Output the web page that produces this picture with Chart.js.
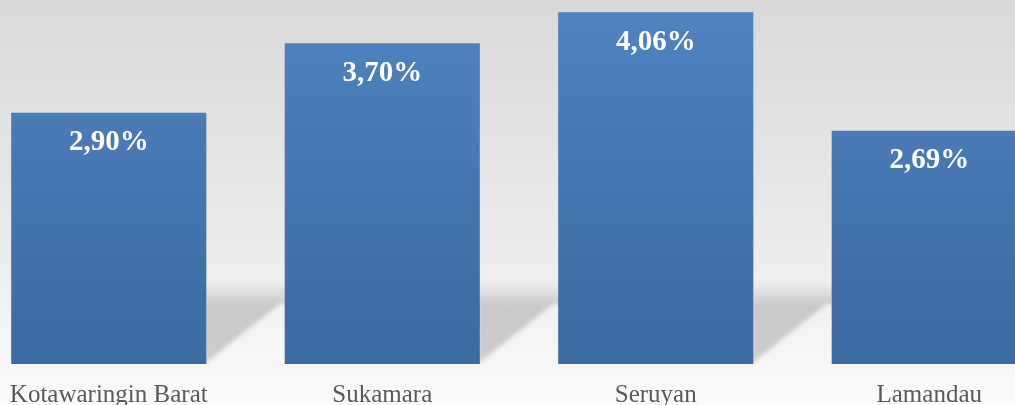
<!DOCTYPE html>
<html>
<head>
<meta charset="utf-8">
<script src="https://cdn.jsdelivr.net/npm/chart.js@4"></script>
<style>
  html, body {
    margin: 0;
    padding: 0;
    width: 1015px;
    height: 405px;
    overflow: hidden;
    background: linear-gradient(#d9d9d9 0px, #e4e4e4 150px, #efefef 280px, #f7f7f7 364px, #fbfbfb 405px);
  }
  #wrap {
    position: absolute;
    left: -28px;
    top: 0;
    width: 1094px;
    height: 405px;
  }
</style>
</head>
<body>
<div id="wrap"><canvas id="chart"></canvas></div>
<script>
// data
const categories = ["Kotawaringin Barat", "Sukamara", "Seruyan", "Lamandau"];
const values = [2.90, 3.70, 4.06, 2.69];
const valueLabels = ["2,90%", "3,70%", "4,06%", "2,69%"];

// soft floor shadow behind each bar
const floorShadow = {
  id: "floorShadow",
  beforeDatasetsDraw(chart) {
    const ctx = chart.ctx;
    const bottom = chart.chartArea.bottom;
    const meta = chart.getDatasetMeta(0);
    ctx.save();
    ctx.filter = "blur(2px)";
    meta.data.forEach((bar) => {
      const right = bar.x + bar.width / 2 - 2;
      const grad = ctx.createLinearGradient(0, bottom - 82, 0, bottom - 58);
      grad.addColorStop(0, "rgba(0,0,0,0)");
      grad.addColorStop(1, "rgba(0,0,0,0.17)");
      ctx.fillStyle = grad;
      ctx.beginPath();
      ctx.moveTo(right, bottom - 82);
      ctx.lineTo(right + 110, bottom - 82);
      ctx.lineTo(right + 110, bottom - 60);
      ctx.lineTo(right + 75, bottom - 60);
      ctx.lineTo(right, bottom);
      ctx.closePath();
      ctx.fill();
    });
    ctx.restore();
  },
};

// white percentage labels inside the bars
const valueText = {
  id: "valueText",
  afterDatasetsDraw(chart) {
    const ctx = chart.ctx;
    const meta = chart.getDatasetMeta(0);
    ctx.save();
    ctx.fillStyle = "#ffffff";
    ctx.font = "bold 29px 'Liberation Serif', serif";
    ctx.textAlign = "center";
    ctx.textBaseline = "middle";
    meta.data.forEach((bar, i) => {
      ctx.fillText(valueLabels[i], bar.x, bar.y + 30);
    });
    ctx.restore();
  },
};

const ctx = document.getElementById("chart").getContext("2d");

function barGradient(context) {
  const area = context.chart.chartArea;
  if (!area) return "#4a7ab6";
  const g = context.chart.ctx.createLinearGradient(0, area.top, 0, area.bottom);
  g.addColorStop(0, "#5083c0");
  g.addColorStop(1, "#3c6aa2");
  return g;
}

new Chart(ctx, {
  type: "bar",
  data: {
    labels: categories,
    datasets: [
      {
        data: values,
        backgroundColor: barGradient,
        borderWidth: 0,
        categoryPercentage: 1,
        barPercentage: 0.7135,
      },
    ],
  },
  options: {
    responsive: true,
    maintainAspectRatio: false,
    animation: false,
    layout: { padding: 0 },
    plugins: {
      legend: { display: false },
      tooltip: { enabled: false },
    },
    scales: {
      x: {
        grid: { display: false, drawTicks: false },
        border: { display: false },
        ticks: {
          color: "#595959",
          font: { family: "'Liberation Serif', serif", size: 25 },
          padding: 16,
          autoSkip: false,
          maxRotation: 0,
        },
        afterFit(scale) {
          scale.height = 41;
        },
      },
      y: {
        display: false,
        min: 0,
        max: 4.2,
      },
    },
  },
  plugins: [floorShadow, valueText],
});
</script>
</body>
</html>
